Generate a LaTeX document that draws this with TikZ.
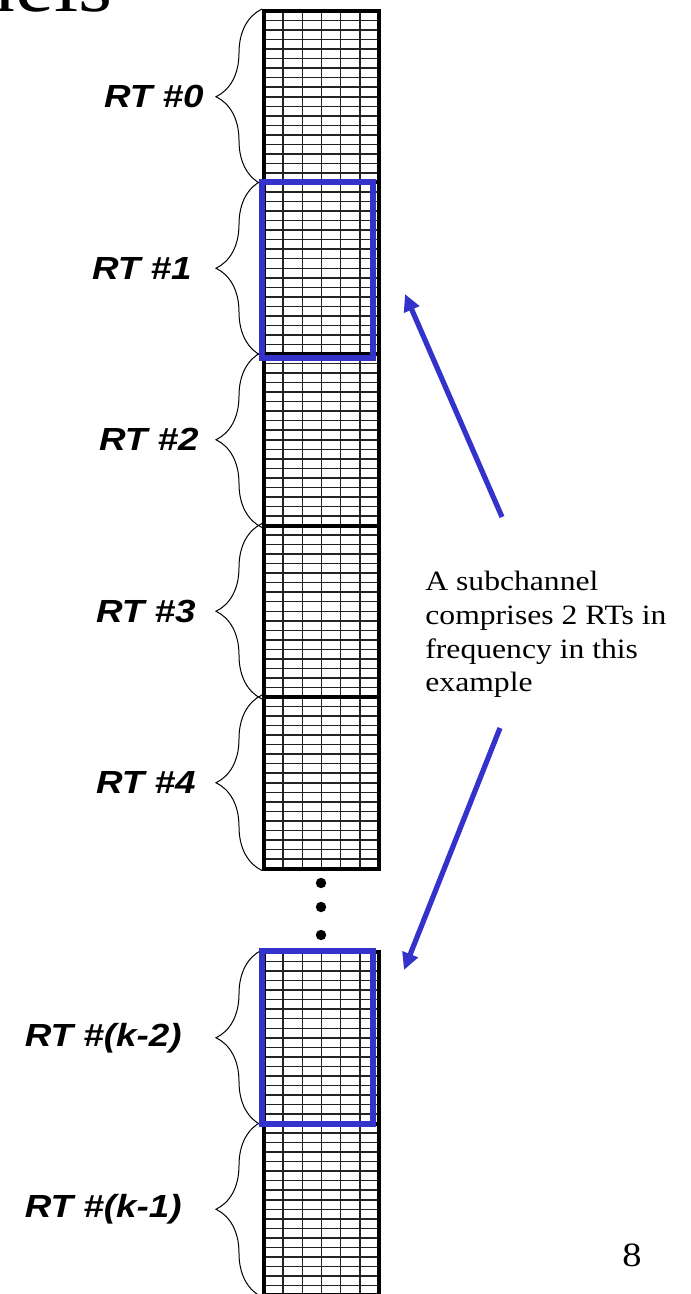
\documentclass[tikz,border=0pt]{standalone}
\usepackage{fontspec}
\setmainfont{Liberation Serif}
\newfontfamily\rtfont[FakeStretch=1.15]{Liberation Sans}
\newfontfamily\notefont[FakeStretch=1.13]{Liberation Serif}
\newfontfamily\titlefont[FakeStretch=1.15]{Liberation Serif}
\usetikzlibrary{arrows.meta,decorations.pathreplacing}
\definecolor{ink}{RGB}{0,0,0}
\definecolor{cell}{RGB}{35,35,35}
\definecolor{subch}{RGB}{51,51,204}
\tikzset{
  block/.style={draw=ink, line width=2pt, minimum width=57.5pt, minimum height=85.75pt, inner sep=0pt},
  cellline/.style={draw=cell, line width=0.75pt},
  subbox/.style={draw=subch, line width=3pt, minimum width=55.5pt, inner sep=0pt},
  brc/.style={decorate, decoration={brace, amplitude=23pt}, line width=0.5pt, draw=ink},
  rt/.style={font=\rtfont\bfseries\itshape\fontsize{16}{19}\selectfont, anchor=east, inner sep=0pt},
  note/.style={font=\notefont\fontsize{14}{16.8}\selectfont, align=left, anchor=north west, inner sep=0pt},
  point/.style={-{Triangle[length=8.5pt,width=8pt]}, draw=subch, line width=2.6pt},
  dot/.style={circle, fill=ink, minimum size=5.2pt, inner sep=0pt},
}

\begin{document}
\begin{tikzpicture}[x=0.5pt, y=-0.5pt]
  \useasboundingbox (0,0) rectangle (690,1294);
  \node[font=\titlefont\fontsize{38}{40}\selectfont, anchor=base east, inner sep=0pt] (ttl) at (113,11.5) {Subchannels};
  % resource tiles
  \foreach \n/\t in {0/11, 1/182.5, 2/354, 3/525.5, 4/697, k2/952, k1/1123.5} {
    \foreach \i in {1,...,5} \draw[cellline] ({264+\i*19.17},\t) -- ++(0,171.5);
    \foreach \j in {1,...,17} \draw[cellline] (264,{\t+\j*9.53}) -- ++(115,0);
    \node[block] (rt\n) at (321.5,{\t+85.75}) {};
  }
  \foreach \n/\g/\txt in {0/29/0, 1/35/1, 2/31.5/2, 3/33/3, 4/33/4, k2/40/(k-2), k1/40/(k-1)} {
    \draw[brc] (rt\n.south west) -- (rt\n.north west);
    \node[rt] (lab\n) at ([xshift=-\g pt]rt\n.west) {RT \#\txt};
  }
  \foreach \y [count=\k] in {883,907,935} \node[dot] (d\k) at (321,\y) {};
  % subchannel = 2 RTs
  \node[subbox, minimum height=88pt] (sc1) at (317,270) {};
  \node[subbox, minimum height=86.5pt] (sc2) at (317,1037.5) {};
  \node[note] (txt) at (425,571) {A subchannel\\comprises 2 RTs in\\frequency in this\\example};
  \coordinate (t1) at (502,517); \coordinate (h1) at (405,294);
  \coordinate (t2) at (500,728); \coordinate (h2) at (404,970);
  \draw[point] (t1) -- (h1);
  \draw[point] (t2) -- (h2);
  \node[font=\notefont\fontsize{17}{20}\selectfont, inner sep=0pt] (pg) at (632,1255) {8};
\end{tikzpicture}
\end{document}
